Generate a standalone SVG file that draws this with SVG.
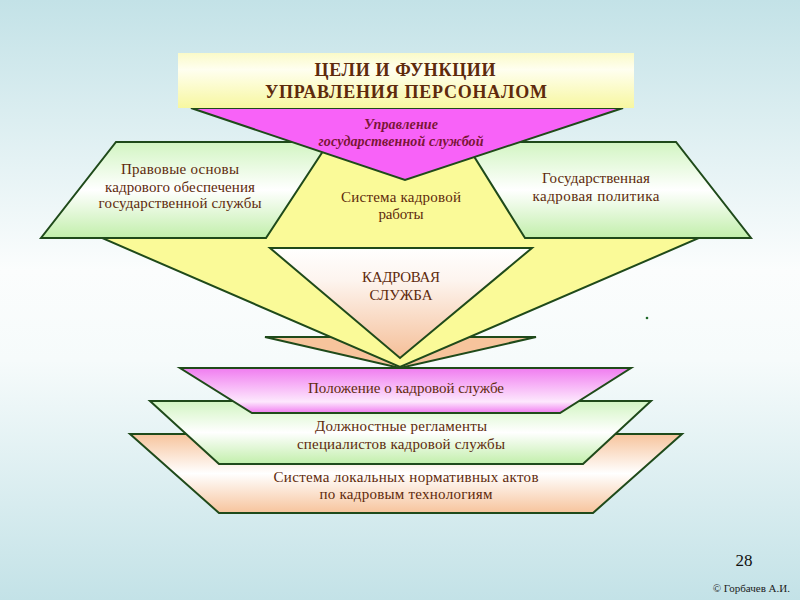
<svg xmlns="http://www.w3.org/2000/svg" width="800" height="600" viewBox="0 0 800 600">
<defs>
<linearGradient id="bg" x1="0" y1="0" x2="0" y2="1">
<stop offset="0" stop-color="#c3e2e7"/>
<stop offset="0.45" stop-color="#fbfdfd"/>
<stop offset="0.6" stop-color="#f6fbfb"/>
<stop offset="1" stop-color="#c3e2e7"/>
</linearGradient>
<linearGradient id="gTitle" x1="0" y1="0" x2="0" y2="1">
<stop offset="0" stop-color="#fafac8"/>
<stop offset="0.3" stop-color="#fffff0"/>
<stop offset="1" stop-color="#f7f7a0"/>
</linearGradient>
<linearGradient id="gGreen" x1="0" y1="0" x2="0" y2="1">
<stop offset="0" stop-color="#d2f5c2"/>
<stop offset="0.5" stop-color="#ffffff"/>
<stop offset="1" stop-color="#c2efab"/>
</linearGradient>
<linearGradient id="gKadr" x1="0" y1="0" x2="0" y2="1">
<stop offset="0" stop-color="#ffffff"/>
<stop offset="0.3" stop-color="#fdf4ee"/>
<stop offset="1" stop-color="#f5bf98"/>
</linearGradient>
<linearGradient id="gMag" x1="0" y1="0" x2="0" y2="1">
<stop offset="0" stop-color="#f07cf0"/>
<stop offset="0.75" stop-color="#fde8fd"/>
<stop offset="1" stop-color="#f07cf0"/>
</linearGradient>
<linearGradient id="gPeach" x1="0" y1="0" x2="0" y2="1">
<stop offset="0" stop-color="#f7c49c"/>
<stop offset="0.5" stop-color="#ffffff"/>
<stop offset="1" stop-color="#f7c49c"/>
</linearGradient>
<style>
.sh{stroke:#1f4a1a;stroke-width:2;stroke-linejoin:miter}
.t{font-family:'Liberation Serif','DejaVu Serif','Noto Serif','Times New Roman',Times,serif;font-size:15px;fill:#5e2a0c;text-anchor:middle}
.title{font-size:18px;font-weight:bold}
.it{font-style:italic;font-weight:bold;font-size:14px;fill:#7a1636}
.small{text-anchor:end;font-size:11px;fill:#222}
</style>
</defs>
<rect width="800" height="600" fill="url(#bg)"/>

<g id="connectors">
<polygon id="peachFlat" class="sh" points="265,337 536,337 400,368" fill="#f7c49c"/>
</g>

<g id="sistema">
<polygon class="sh" points="200,142 600,142 699,238 400,367 102,238" fill="#fafa98"/>
<text class="t" x="401" y="202" textLength="120">Система кадровой</text>
<text class="t" x="401" y="219" textLength="45">работы</text>
</g>

<g id="pravovye">
<polygon class="sh" points="116,142 329,142 266,238 41,238" fill="url(#gGreen)"/>
<text class="t" x="180" y="174" textLength="118">Правовые основы</text>
<text class="t" x="180" y="192" textLength="150">кадрового обеспечения</text>
<text class="t" x="180" y="208" textLength="163">государственной службы</text>
</g>

<g id="politika">
<polygon class="sh" points="465,142 676,142 751,238 525,238" fill="url(#gGreen)"/>
<text class="t" x="596" y="183" textLength="108">Государственная</text>
<text class="t" x="596" y="201" textLength="127">кадровая политика</text>
</g>

<g id="kadrovaya">
<polygon class="sh" points="270,248 532,248 400,358" fill="url(#gKadr)"/>
<text class="t" x="401" y="282" textLength="78">КАДРОВАЯ</text>
<text class="t" x="401" y="300" textLength="63">СЛУЖБА</text>
</g>

<g id="upravlenie">
<polygon class="sh" points="191,108 623,108 405,180" fill="#f862f8"/>
<text class="t it" x="401" y="129" textLength="74">Управление</text>
<text class="t it" x="401" y="146" textLength="165">государственной  службой</text>
</g>

<g id="celi">
<rect x="178" y="53" width="456" height="55" fill="url(#gTitle)"/>
<text class="t title" x="405" y="76" textLength="181">ЦЕЛИ И ФУНКЦИИ</text>
<text class="t title" x="406" y="98" textLength="282">УПРАВЛЕНИЯ ПЕРСОНАЛОМ</text>
</g>

<g id="sistemaLokalnyh">
<polygon class="sh" points="130,434 682,434 593,513 219,513" fill="url(#gPeach)"/>
<text class="t" x="406" y="482" textLength="265">Система локальных нормативных  актов</text>
<text class="t" x="406" y="499" textLength="173">по кадровым технологиям</text>
</g>

<g id="dolzhnostnye">
<polygon class="sh" points="150,401 651,401 583,464 219,464" fill="url(#gGreen)"/>
<text class="t" x="401" y="431" textLength="172">Должностные регламенты</text>
<text class="t" x="401" y="449" textLength="208">специалистов кадровой службы</text>
</g>

<g id="polozhenie">
<polygon class="sh" points="180,368 631,368 560,413 252,413" fill="url(#gMag)"/>
<text class="t" x="406" y="393" textLength="196">Положение о кадровой службе</text>
</g>

<circle cx="647" cy="318" r="1.3" fill="#1f6a2a"/>
<text class="t" x="744" y="566" font-size="17" style="font-size:17px;fill:#111">28</text>
<text class="t small" x="790" y="592">© Горбачев А.И.</text>
</svg>
